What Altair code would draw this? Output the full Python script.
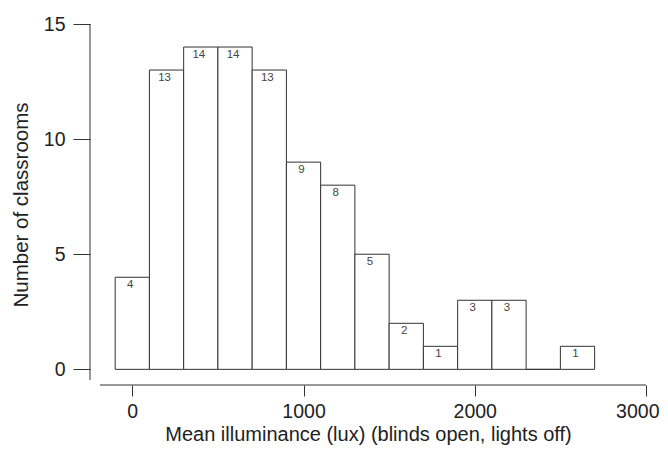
import altair as alt
import pandas as pd

bin_centers = [0, 200, 400, 600, 800, 1000, 1200, 1400, 1600, 1800, 2000, 2200, 2400, 2600]
counts = [4, 13, 14, 14, 13, 9, 8, 5, 2, 1, 3, 3, 0, 1]
bin_width = 200
x_ticks = [0, 1000, 2000, 3000]
y_ticks = [0, 5, 10, 15]

df = pd.DataFrame({
    "center": bin_centers,
    "count": counts,
})
df["x0"] = df["center"] - bin_width / 2
df["x1"] = df["center"] + bin_width / 2
df["label"] = df["count"].astype(str)
lab = df[df["count"] > 0]

FONT = "Liberation Sans"
LINE = "#333333"
TXT = "#222222"
XDOM = [-247, 3000]
YDOM = [-0.68, 15]

xs = alt.Scale(domain=XDOM, nice=False, zero=False)
ys = alt.Scale(domain=YDOM, nice=False, zero=False)

bars = alt.Chart(df).mark_rect(fill="white", stroke=LINE, strokeWidth=1).encode(
    x=alt.X("x0:Q", scale=xs,
            axis=alt.Axis(values=x_ticks, format="d", domain=False, grid=False, tickSize=11,
                          tickColor=LINE, labelFontSize=19.5, labelFont=FONT,
                          labelColor=TXT, labelPadding=6,
                          title="Mean illuminance (lux) (blinds open, lights off)",
                          titleFontSize=20, titleFont=FONT, titleFontWeight="normal",
                          titleColor=TXT, titlePadding=4,
                          labelFlush=True, labelFlushOffset=13)),
    x2="x1:Q",
    y=alt.Y("count:Q", scale=ys,
            axis=alt.Axis(values=y_ticks, format="d", domain=False, grid=False, tickSize=17,
                          tickColor=LINE, labelFontSize=19.5, labelFont=FONT,
                          labelColor=TXT, labelPadding=8,
                          title="Number of classrooms", titleFontSize=20.5,
                          titleFont=FONT, titleFontWeight="normal",
                          titleColor=TXT, titlePadding=12, labelFlush=False)),
    y2=alt.datum(0),
)

labels = alt.Chart(lab).mark_text(
    font=FONT, fontSize=11.5, color="#444444", baseline="top", dx=-2, dy=2
).encode(
    x=alt.X("center:Q", scale=xs),
    y=alt.Y("count:Q", scale=ys),
    text="label:N",
)

axis_df = pd.DataFrame({"xa": [-189], "xb": [3000], "ya": [-0.68], "yl": [-0.46], "yt": [15], "xl": [-247]})

x_axis_line = alt.Chart(axis_df).mark_rule(color=LINE, strokeWidth=1).encode(
    x=alt.X("xa:Q", scale=xs), x2="xb:Q", y=alt.Y("ya:Q", scale=ys)
)
y_axis_line = alt.Chart(axis_df).mark_rule(color=LINE, strokeWidth=1).encode(
    x=alt.X("xl:Q", scale=xs), y=alt.Y("yl:Q", scale=ys), y2="yt:Q"
)

chart = alt.layer(bars, labels, x_axis_line, y_axis_line).properties(
    width=556, height=361,
    autosize=alt.AutoSizeParams(type="none"),
    padding={"left": 82, "top": 16, "right": 14, "bottom": 62},
).configure(background="white").configure_view(stroke=None)

chart.save("out.html", embed_options={"renderer": "svg", "actions": False})
